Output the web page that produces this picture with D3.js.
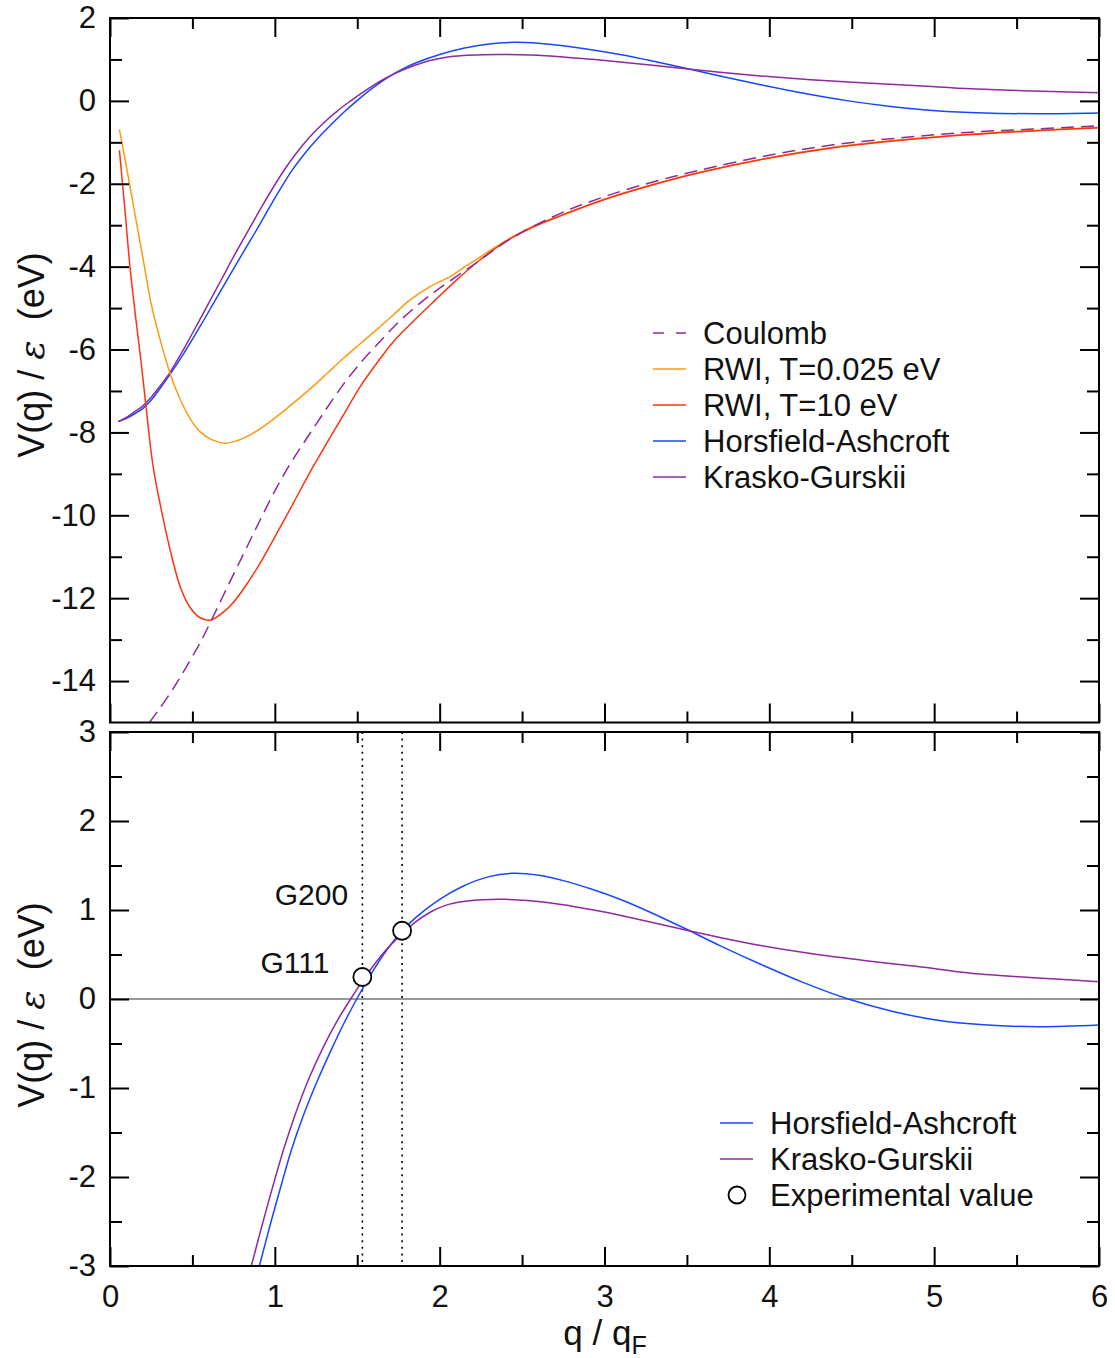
<!DOCTYPE html>
<html>
<head>
<meta charset="utf-8">
<script src="https://cdn.jsdelivr.net/npm/d3@7"></script>
<style>
  html, body { margin: 0; padding: 0; background: #fff; }
  svg { display: block; }
  text { font-family: "Liberation Sans", Arial, Helvetica, sans-serif; fill: #111; }
</style>
</head>
<body>
<svg id="chart" width="1115" height="1358"></svg>
<script>
// Pseudopotential form factors V(q)/eps versus q/qF  — [q, V] pairs
const coulomb = [[0.239,-15.0],[0.3,-14.67],[0.385,-14.17],[0.46,-13.68],[0.546,-13.08],[0.607,-12.6],[0.7,-11.83],[0.809,-10.94],[0.91,-10.12],[1.011,-9.33],[1.11,-8.65],[1.214,-8.02],[1.316,-7.41],[1.416,-6.84],[1.518,-6.33],[1.618,-5.89],[1.75,-5.34],[1.881,-4.88],[2.0,-4.52],[2.225,-3.9],[2.43,-3.33],[2.73,-2.72],[3.0,-2.31],[3.3,-1.95],[3.58,-1.67],[4.0,-1.31],[4.39,-1.06],[4.8,-0.89],[5.198,-0.76],[5.6,-0.68],[6.0,-0.6]];
const rwiCold = [[0.057,-0.69],[0.1,-1.6],[0.15,-2.7],[0.2,-3.8],[0.25,-4.9],[0.3,-5.7],[0.364,-6.57],[0.42,-7.15],[0.485,-7.66],[0.546,-7.98],[0.62,-8.18],[0.698,-8.26],[0.77,-8.2],[0.85,-8.06],[0.93,-7.86],[1.011,-7.62],[1.11,-7.3],[1.214,-6.95],[1.316,-6.58],[1.416,-6.21],[1.518,-5.86],[1.618,-5.52],[1.72,-5.16],[1.82,-4.8],[1.942,-4.48],[2.063,-4.24],[2.15,-4.01],[2.225,-3.82],[2.33,-3.55],[2.427,-3.31],[2.58,-3.0],[2.73,-2.77],[3.0,-2.37],[3.3,-2.01],[3.58,-1.72],[4.0,-1.37],[4.39,-1.12],[4.8,-0.94],[5.198,-0.81],[5.6,-0.715],[6.0,-0.64]];
const rwiHot = [[0.057,-1.19],[0.09,-2.6],[0.121,-4.0],[0.158,-5.3],[0.19,-6.35],[0.218,-7.36],[0.262,-8.83],[0.324,-10.11],[0.375,-11.0],[0.429,-11.76],[0.485,-12.22],[0.542,-12.46],[0.607,-12.53],[0.698,-12.3],[0.769,-12.0],[0.84,-11.6],[0.91,-11.16],[1.01,-10.45],[1.112,-9.71],[1.21,-8.98],[1.315,-8.26],[1.42,-7.55],[1.517,-6.9],[1.62,-6.32],[1.719,-5.81],[1.85,-5.28],[1.97,-4.82],[2.1,-4.33],[2.225,-3.9],[2.33,-3.58],[2.427,-3.33],[2.58,-3.02],[2.73,-2.78],[3.0,-2.38],[3.3,-2.02],[3.58,-1.73],[4.0,-1.38],[4.39,-1.13],[4.8,-0.95],[5.198,-0.82],[5.6,-0.725],[6.0,-0.65]];
const horsfieldAshcroft = [[0.05,-7.74],[0.1,-7.66],[0.15,-7.55],[0.2,-7.42],[0.25,-7.22],[0.3,-6.96],[0.364,-6.6],[0.45,-6.08],[0.55,-5.42],[0.637,-4.82],[0.72,-4.25],[0.809,-3.65],[0.906,-3.0],[0.97,-2.55],[1.042,-2.07],[1.1,-1.7],[1.173,-1.31],[1.26,-0.91],[1.345,-0.56],[1.42,-0.27],[1.497,0.0],[1.59,0.3],[1.679,0.551],[1.77,0.76],[1.861,0.925],[2.0,1.12],[2.144,1.27],[2.3,1.375],[2.447,1.412],[2.6,1.39],[2.75,1.33],[2.92,1.235],[3.094,1.12],[3.277,0.975],[3.479,0.8],[3.7,0.6],[3.947,0.39],[4.2,0.19],[4.479,0.0],[4.75,-0.14],[5.012,-0.236],[5.3,-0.29],[5.63,-0.311],[6.0,-0.292]];
const kraskoGurskii = [[0.05,-7.74],[0.1,-7.64],[0.15,-7.5],[0.2,-7.36],[0.25,-7.15],[0.3,-6.9],[0.364,-6.55],[0.45,-5.97],[0.542,-5.3],[0.607,-4.82],[0.68,-4.28],[0.758,-3.7],[0.86,-2.98],[0.92,-2.56],[0.99,-2.09],[1.05,-1.71],[1.123,-1.3],[1.21,-0.88],[1.294,-0.54],[1.38,-0.24],[1.46,0.0],[1.531,0.2],[1.6,0.38],[1.669,0.54],[1.772,0.735],[1.85,0.86],[1.942,0.975],[2.04,1.055],[2.144,1.095],[2.26,1.115],[2.377,1.12],[2.55,1.105],[2.75,1.06],[2.92,1.005],[3.094,0.94],[3.277,0.865],[3.479,0.78],[3.7,0.69],[3.947,0.6],[4.25,0.51],[4.586,0.43],[4.9,0.365],[5.225,0.29],[5.6,0.24],[6.0,0.195]];

// Experimental reciprocal-lattice points
const expLabels = ["G111", "G200"];
const expQ = [1.531, 1.772];
const expV = [0.247, 0.767];

// Tick values
const xMajor = [0, 1, 2, 3, 4, 5, 6];
const xMinor = [0.5, 1.5, 2.5, 3.5, 4.5, 5.5];
const yTopMajor = [-14, -12, -10, -8, -6, -4, -2, 0, 2];
const yTopMinor = [-13, -11, -9, -7, -5, -3, -1, 1];
const yBotMajor = [-3, -2, -1, 0, 1, 2, 3];
const yBotMinor = [-2.5, -1.5, -0.5, 0.5, 1.5, 2.5];

const topLegend = ["Coulomb", "RWI, T=0.025 eV", "RWI, T=10 eV", "Horsfield-Ashcroft", "Krasko-Gurskii"];
const botLegend = ["Horsfield-Ashcroft", "Krasko-Gurskii", "Experimental value"];

const C = { blue: "#1846ff", purple: "#8e2a9e", orange: "#ff9a10", red: "#ff3210" };

const svg = d3.select("#chart");
const L = 110, R = 1099;
const x = d3.scaleLinear().domain([0, 6]).range([L, R]);
const yTop = d3.scaleLinear().domain([-15, 2]).range([722.5, 18]);
const yBot = d3.scaleLinear().domain([-3, 3]).range([1266, 732]);
const plain = d => String(d);   // hyphen-minus, as in the printed axes

const defs = svg.append("defs");
function clip(id, y) {
  defs.append("clipPath").attr("id", id).append("rect")
    .attr("x", L).attr("y", y.range()[1]).attr("width", R - L).attr("height", y.range()[0] - y.range()[1]);
}
clip("clipTop", yTop);
clip("clipBot", yBot);

function frameAxes(y, major, minor, showX) {
  const y0 = y.range()[0], y1 = y.range()[1];
  const g = svg.append("g");
  const style = sel => { sel.select(".domain").remove(); sel.selectAll("line").attr("stroke", "#000").attr("stroke-width", 2); sel.selectAll("text").style("font-size", "31px").attr("fill", "#111"); };
  // left
  g.append("g").attr("transform", `translate(${L},0)`).call(d3.axisLeft(y).tickValues(major).tickSize(-19).tickPadding(14).tickFormat(plain)).call(style);
  g.append("g").attr("transform", `translate(${L},0)`).call(d3.axisLeft(y).tickValues(minor).tickSize(-12).tickFormat("")).call(style);
  // right
  g.append("g").attr("transform", `translate(${R},0)`).call(d3.axisRight(y).tickValues(major).tickSize(-19).tickFormat("")).call(style);
  g.append("g").attr("transform", `translate(${R},0)`).call(d3.axisRight(y).tickValues(minor).tickSize(-12).tickFormat("")).call(style);
  // top
  g.append("g").attr("transform", `translate(0,${y1})`).call(d3.axisTop(x).tickValues(xMajor).tickSize(-19).tickFormat("")).call(style);
  g.append("g").attr("transform", `translate(0,${y1})`).call(d3.axisTop(x).tickValues(xMinor).tickSize(-11).tickFormat("")).call(style);
  // bottom
  g.append("g").attr("transform", `translate(0,${y0})`).call(d3.axisBottom(x).tickValues(xMajor).tickSize(-19).tickPadding(19).tickFormat(showX ? plain : "")).call(style);
  g.append("g").attr("transform", `translate(0,${y0})`).call(d3.axisBottom(x).tickValues(xMinor).tickSize(-11).tickFormat("")).call(style);
  g.append("rect").attr("x", L).attr("y", y1).attr("width", R - L).attr("height", y0 - y1)
    .attr("fill", "none").attr("stroke", "#000").attr("stroke-width", 2);
}

function drawCurve(y, clipId, data, color, dash) {
  const line = d3.line().x(d => x(d[0])).y(d => y(d[1])).curve(d3.curveCatmullRom.alpha(0.5));
  svg.append("path").datum(data).attr("clip-path", `url(#${clipId})`)
    .attr("d", line).attr("fill", "none").attr("stroke", color).attr("stroke-width", 1.5)
    .attr("stroke-dasharray", dash || null);
}

// ---------- upper panel ----------
drawCurve(yTop, "clipTop", horsfieldAshcroft, C.blue);
drawCurve(yTop, "clipTop", kraskoGurskii, C.purple);
drawCurve(yTop, "clipTop", rwiCold, C.orange);
drawCurve(yTop, "clipTop", rwiHot, C.red);
drawCurve(yTop, "clipTop", coulomb, C.purple, "13,7");
frameAxes(yTop, yTopMajor, yTopMinor, false);

const legTopStyles = [[C.purple, "11,12"], [C.orange, null], [C.red, null], [C.blue, null], [C.purple, null]];
const lt = svg.append("g");
topLegend.forEach((name, i) => {
  const yy = 333 + i * 36;
  lt.append("line").attr("x1", 653).attr("x2", 686).attr("y1", yy).attr("y2", yy)
    .attr("stroke", legTopStyles[i][0]).attr("stroke-width", 1.6).attr("stroke-dasharray", legTopStyles[i][1]);
  lt.append("text").attr("x", 703).attr("y", yy).attr("dy", "0.36em").style("font-size", "31px").text(name);
});

// ---------- lower panel ----------
svg.append("line").attr("x1", L).attr("x2", R).attr("y1", yBot(0)).attr("y2", yBot(0))
  .attr("stroke", "#333").attr("stroke-width", 1);
expQ.forEach(q => {
  svg.append("line").attr("x1", x(q)).attr("x2", x(q)).attr("y1", yBot.range()[1]).attr("y2", yBot.range()[0])
    .attr("stroke", "#000").attr("stroke-width", 1.6).attr("stroke-dasharray", "2,4.6");
});
drawCurve(yBot, "clipBot", horsfieldAshcroft, C.blue);
drawCurve(yBot, "clipBot", kraskoGurskii, C.purple);
expQ.forEach((q, i) => {
  svg.append("circle").attr("cx", x(q)).attr("cy", yBot(expV[i])).attr("r", 9)
    .attr("fill", "#fff").attr("stroke", "#000").attr("stroke-width", 1.8);
});
const labelOffsets = [[-33, -4], [-54, -26]];
expLabels.forEach((lab, i) => {
  svg.append("text").attr("x", x(expQ[i]) + labelOffsets[i][0]).attr("y", yBot(expV[i]) + labelOffsets[i][1])
    .attr("text-anchor", "end").style("font-size", "30px").text(lab);
});
frameAxes(yBot, yBotMajor, yBotMinor, true);

const lb = svg.append("g");
botLegend.forEach((name, i) => {
  const yy = 1123 + i * 36;
  if (i < 2) {
    lb.append("line").attr("x1", 720).attr("x2", 753).attr("y1", yy).attr("y2", yy)
      .attr("stroke", i === 0 ? C.blue : C.purple).attr("stroke-width", 1.6);
  } else {
    lb.append("circle").attr("cx", 737).attr("cy", yy).attr("r", 8.5)
      .attr("fill", "#fff").attr("stroke", "#000").attr("stroke-width", 1.8);
  }
  lb.append("text").attr("x", 770).attr("y", yy).attr("dy", "0.36em").style("font-size", "31px").text(name);
});

// ---------- axis titles ----------
function yTitle(cy) {
  const t = svg.append("text").attr("transform", `translate(44,${cy}) rotate(-90)`)
    .attr("text-anchor", "middle").style("font-size", "36px").style("white-space", "pre");
  t.append("tspan").text("V(q) / ");
  t.append("tspan").style("font-style", "italic").style("font-family", "'DejaVu Serif', serif").text("ε");
  t.append("tspan").text("  (eV)");
}
yTitle(355);
yTitle(1005);

const xt = svg.append("text").attr("x", 605).attr("y", 1345).attr("text-anchor", "middle").style("font-size", "35px");
xt.append("tspan").text("q / q");
xt.append("tspan").attr("dy", 9).style("font-size", "25px").text("F");
</script>
</body>
</html>
